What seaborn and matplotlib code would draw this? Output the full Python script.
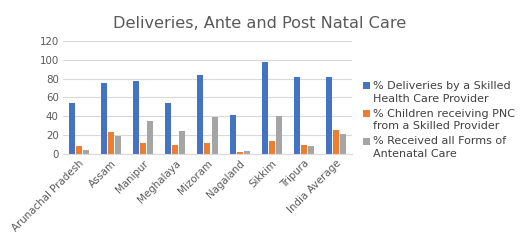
import matplotlib
matplotlib.use("Agg")
import matplotlib.pyplot as plt
import seaborn as sns
import pandas as pd

states = ["Arunachal Pradesh", "Assam", "Manipur", "Meghalaya", "Mizoram",
          "Nagaland", "Sikkim", "Tripura", "India Average"]
deliveries = [54.5, 75.0, 77.8, 54.2, 84.2, 41.7, 97.7, 81.4, 81.7]
pnc = [8.8, 23.7, 11.3, 9.5, 11.7, 2.0, 13.5, 9.2, 25.1]
antenatal = [4.2, 19.0, 35.0, 24.4, 39.3, 3.0, 40.0, 8.2, 21.6]
series = ["% Deliveries by a Skilled\nHealth Care Provider",
          "% Children receiving PNC\nfrom a Skilled Provider",
          "% Received all Forms of\nAntenatal Care"]
colors = ["#4472C4", "#ED7D31", "#A5A5A5"]

df = pd.DataFrame({
    "state": states * 3,
    "value": deliveries + pnc + antenatal,
    "series": [series[0]] * 9 + [series[1]] * 9 + [series[2]] * 9,
})

sns.set_style("white")
plt.rcParams['font.family'] = ['DejaVu Sans']

fig = plt.figure(figsize=(5.2, 2.41), dpi=100)
ax = fig.add_axes([0.121, 0.361, 0.556, 0.469])
sns.barplot(data=df, x="state", y="value", hue="series", palette=colors,
            width=0.66, gap=0.15, saturation=1, linewidth=0, ax=ax)

ax.set_ylim(0, 120)
ax.set_yticks(range(0, 121, 20))
ax.yaxis.grid(True, color="#D9D9D9", linewidth=0.8)
ax.set_axisbelow(True)
for s in ["top", "right", "left"]:
    ax.spines[s].set_visible(False)
ax.spines["bottom"].set_color("#D9D9D9")
ax.tick_params(axis="both", length=0, labelsize=7.4, colors="#595959", pad=3)
plt.setp(ax.get_xticklabels(), rotation=45, ha="right", rotation_mode="anchor")
ax.set_xlabel("")
ax.set_ylabel("")

fig.suptitle("Deliveries, Ante and Post Natal Care", x=0.5, y=0.935,
             fontsize=11.6, color="#595959")

handles, labels = ax.get_legend_handles_labels()
leg = ax.legend(handles, labels, loc="center left", bbox_to_anchor=(1.005, 0.3),
                frameon=False, fontsize=8, handlelength=0.6, handleheight=0.6,
                handletextpad=0.3, labelspacing=0.45, labelcolor="#404040")
for t in leg.get_texts():
    t.set_linespacing(1.35)
# marker sits beside the first line of each entry
for p in leg.legend_handles:
    p.set_y(p.get_y() + 5)

fig.savefig("out.png", dpi=100)
